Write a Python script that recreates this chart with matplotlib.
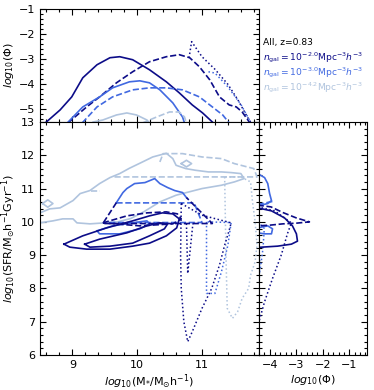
import matplotlib
matplotlib.use("Agg")
import matplotlib.pyplot as plt
from matplotlib.ticker import MultipleLocator, NullFormatter

NAVY = "#0c0c88"
ROYAL = "#4169e1"
LIGHT = "#b0c4de"

# ---------------- top panel: mass functions log10(Phi) vs log10(M*) ----------------
mf_navy_solid_x = [8.58, 8.81, 8.99, 9.16, 9.38, 9.58, 9.73, 9.93, 10.19, 10.45, 10.65, 10.85, 11.01, 11.16]
mf_navy_solid_y = [-5.54, -5.02, -4.5, -3.74, -3.22, -2.94, -2.9, -3.02, -3.42, -3.9, -4.34, -4.82, -5.14, -5.5]
mf_navy_dash_x = [8.93, 9.22, 9.42, 9.68, 9.93, 10.19, 10.45, 10.65, 10.81, 10.96, 11.12, 11.27, 11.42, 11.53, 11.62, 11.73]
mf_navy_dash_y = [-5.54, -4.9, -4.5, -3.94, -3.5, -3.1, -2.9, -2.82, -2.94, -3.3, -3.82, -4.5, -4.82, -4.9, -5.1, -5.5]
mf_navy_dot_x = [10.8, 10.84, 11.0, 11.2, 11.4, 11.55, 11.7, 11.75]
mf_navy_dot_y = [-2.95, -2.3, -2.9, -3.4, -4.0, -4.6, -5.3, -5.5]
mf_royal_solid_x = [8.92, 9.16, 9.42, 9.62, 9.88, 10.04, 10.19, 10.35, 10.55, 10.7, 10.73]
mf_royal_solid_y = [-5.54, -4.9, -4.5, -4.14, -3.9, -3.86, -3.94, -4.22, -4.74, -5.3, -5.54]
mf_royal_dash_x = [9.15, 9.38, 9.62, 9.93, 10.19, 10.45, 10.7, 10.96, 11.16, 11.32, 11.42]
mf_royal_dash_y = [-5.54, -4.9, -4.5, -4.22, -4.14, -4.14, -4.22, -4.5, -4.9, -5.22, -5.54]
mf_royal_dot_x = [11.1, 11.2, 11.4, 11.6, 11.75]
mf_royal_dot_y = [-3.5, -3.55, -4.1, -4.8, -5.5]
mf_light_solid_x = [9.32, 9.47, 9.68, 9.84, 9.99, 10.15, 10.19]
mf_light_solid_y = [-5.5, -5.42, -5.22, -5.14, -5.22, -5.42, -5.54]
mf_light_dash_x = [10.08, 10.3, 10.5, 10.65, 10.73, 10.76]
mf_light_dash_y = [-5.54, -5.3, -5.1, -5.1, -5.3, -5.54]

# ---------------- main panel: SFR-M* contours ----------------
c_navy_solid_outer_x = [8.87, 9.16, 9.53, 9.93, 10.19, 10.39, 10.55, 10.65, 10.61, 10.45, 10.19, 9.93, 9.58, 9.22, 8.96, 8.87]
c_navy_solid_outer_y = [9.33, 9.58, 9.82, 10.03, 10.18, 10.27, 10.24, 10.09, 9.82, 9.58, 9.36, 9.27, 9.18, 9.18, 9.24, 9.33]
c_navy_solid_inner_x = [9.19, 9.42, 9.84, 10.15, 10.35, 10.47, 10.42, 10.19, 9.93, 9.58, 9.27, 9.19]
c_navy_solid_inner_y = [9.33, 9.48, 9.67, 9.88, 9.97, 9.94, 9.79, 9.58, 9.36, 9.27, 9.24, 9.33]
c_navy_dash_outer_x = [9.68, 9.47, 11.16, 10.76]
c_navy_dash_outer_y = [10.58, 9.95, 9.95, 10.73]
c_navy_dash_inner_x = [9.47, 9.84, 10.15, 10.45, 10.62, 10.68, 10.55, 10.04, 9.47]
c_navy_dash_inner_y = [9.97, 10.18, 10.27, 10.3, 10.24, 10.09, 9.94, 9.88, 9.97]
c_navy_dot_x = [10.68, 10.67, 10.68, 10.72, 10.78, 10.85, 11.0, 11.15, 11.27, 11.35, 11.42, 11.45, 11.0, 10.68]
c_navy_dot_y = [10.55, 9.0, 8.0, 7.0, 6.4, 6.7, 7.4, 8.0, 8.7, 9.3, 9.75, 9.97, 10.2, 10.55]
c_navy_dot_notch_x = [10.76, 10.78, 10.86]
c_navy_dot_notch_y = [9.95, 8.45, 9.95]
c_royal_solid_x = [9.68, 9.78, 9.84, 9.96, 10.12, 10.27, 10.35, 10.47, 10.58, 10.7, 10.76]
c_royal_solid_y = [10.58, 10.88, 11.0, 11.15, 11.18, 11.3, 11.15, 11.03, 10.94, 10.88, 10.73]
c_royal_solid_small_x = [9.38, 9.62, 9.93, 10.15, 10.19, 10.04, 9.73, 9.42, 9.38]
c_royal_solid_small_y = [9.73, 9.88, 9.97, 10.03, 9.94, 9.79, 9.64, 9.64, 9.73]
c_royal_dash_x = [9.68, 10.88, 11.0, 9.55]
c_royal_dash_y = [10.57, 10.57, 9.98, 9.98]
c_royal_dot_x = [11.07, 11.07, 11.2, 11.3, 11.4, 11.45, 11.07]
c_royal_dot_y = [10.0, 7.85, 7.85, 8.5, 9.3, 9.98, 10.0]
c_light_solid_x = [8.5, 8.65, 8.81, 9.01, 9.12, 9.27, 9.42, 9.58, 9.73, 9.88, 10.04, 10.24, 10.45, 10.55,
                   10.6, 10.75, 10.9, 11.1, 11.3, 11.45, 11.6, 11.65, 11.5, 11.3, 11.0, 10.8, 10.6, 10.35,
                   10.1, 9.9, 9.7, 9.5, 9.27, 9.07, 9.01, 8.85, 8.7, 8.5]
c_light_solid_y = [10.27, 10.39, 10.42, 10.64, 10.85, 10.94, 11.15, 11.33, 11.45, 11.61, 11.76, 11.95, 12.06, 11.9,
                   11.7, 11.6, 11.55, 11.5, 11.5, 11.48, 11.45, 11.3, 11.2, 11.1, 11.0, 10.9, 10.8, 10.6,
                   10.3, 10.1, 10.0, 9.97, 9.94, 9.97, 10.09, 10.09, 10.03, 9.97]
c_light_diamond1_x = [8.54, 8.62, 8.7, 8.62, 8.54]
c_light_diamond1_y = [10.55, 10.66, 10.55, 10.44, 10.55]
c_light_diamond2_x = [10.68, 10.76, 10.84, 10.76, 10.68]
c_light_diamond2_y = [11.75, 11.85, 11.75, 11.65, 11.75]
c_light_dash_x = [9.65, 11.85, 11.8, 11.5, 11.3, 11.0, 10.7, 10.4, 10.35]
c_light_dash_y = [11.35, 11.35, 11.6, 11.75, 11.9, 11.95, 12.05, 12.05, 11.8]
c_light_dash_small_x = [9.28, 9.42]
c_light_dash_small_y = [10.94, 10.94]
c_light_dot_x = [11.35, 11.37, 11.39, 11.47, 11.55, 11.62, 11.72, 11.75, 11.82, 11.85, 11.82, 11.78, 11.75, 11.6, 11.35]
c_light_dot_y = [11.35, 9.0, 7.4, 7.1, 7.3, 7.7, 8.0, 8.4, 8.8, 9.3, 10.0, 10.6, 11.2, 11.35, 11.35]

# ---------------- right panel: SFR functions ----------------
sf_navy_solid_x = [-4.45, -3.93, -3.44, -3.14, -2.99, -2.95, -3.18, -3.7, -4.3, -4.45]
sf_navy_solid_y = [10.42, 10.33, 10.12, 9.88, 9.64, 9.42, 9.33, 9.27, 9.24, 9.23]
sf_navy_dash_x = [-4.45, -3.95, -3.5, -3.0, -2.5, -3.0, -3.5, -4.0, -4.45]
sf_navy_dash_y = [10.5, 10.45, 10.28, 10.12, 10.0, 9.96, 9.94, 9.9, 9.88]
sf_navy_dot_x = [-4.45, -3.81, -3.18, -3.33, -3.55, -3.89, -4.19, -4.37, -4.45]
sf_navy_dot_y = [10.45, 10.33, 9.97, 9.64, 9.03, 8.3, 7.6, 7.09, 6.9]
sf_royal_solid_x = [-4.45, -4.19, -4.07, -4.0, -3.93, -4.07, -4.45]
sf_royal_solid_y = [11.45, 11.33, 11.15, 10.85, 10.64, 10.55, 10.48]
sf_royal_solid2_x = [-4.45, -4.07, -3.89, -3.93, -4.19, -4.45]
sf_royal_solid2_y = [9.82, 9.88, 9.79, 9.64, 9.64, 9.67]
sf_royal_dash_x = [-4.45, -3.85]
sf_royal_dash_y = [10.52, 10.62]
sf_royal_dot_x = [-4.45, -4.2, -4.25, -4.35, -4.45]
sf_royal_dot_y = [10.0, 9.8, 9.2, 8.6, 8.2]
sf_light_dot_x = [-4.45, -4.35, -4.38, -4.45]
sf_light_dot_y = [9.2, 8.9, 8.3, 7.9]

legend_texts = [r"All, z=0.83",
                r"$n_{\rm gal}=10^{-2.0}{\rm Mpc}^{-3}h^{-3}$",
                r"$n_{\rm gal}=10^{-3.0}{\rm Mpc}^{-3}h^{-3}$",
                r"$n_{\rm gal}=10^{-4.2}{\rm Mpc}^{-3}h^{-3}$"]
legend_colors = ["black", NAVY, ROYAL, LIGHT]

W, H = 374, 390
fig = plt.figure(figsize=(W / 100, H / 100), dpi=100)
L, R, B, M, T, RR = 40 / W, 259 / W, 1 - 355 / H, 1 - 122 / H, 1 - 9 / H, 367 / W
ax_top = fig.add_axes([L, M, R - L, T - M])
ax = fig.add_axes([L, B, R - L, M - B])
ax_r = fig.add_axes([R, B, RR - R, M - B])

LW = 1.2
DOT = (0, (1, 1.6))
def style(a):
    a.tick_params(which="both", direction="in", top=True, right=True, labelsize=8, width=0.8)
    a.tick_params(which="major", length=4)
    a.tick_params(which="minor", length=2)
    for s in a.spines.values():
        s.set_linewidth(0.8)

def draw(a, xs, ys, c, ls):
    if ls == ":":
        a.plot(xs, ys, color=c, lw=1.1, ls=DOT)
    else:
        a.plot(xs, ys, color=c, lw=LW, ls=ls)

# top
draw(ax_top, mf_navy_solid_x, mf_navy_solid_y, NAVY, "-")
draw(ax_top, mf_navy_dash_x, mf_navy_dash_y, NAVY, "--")
draw(ax_top, mf_navy_dot_x, mf_navy_dot_y, NAVY, ":")
draw(ax_top, mf_royal_solid_x, mf_royal_solid_y, ROYAL, "-")
draw(ax_top, mf_royal_dash_x, mf_royal_dash_y, ROYAL, "--")
draw(ax_top, mf_royal_dot_x, mf_royal_dot_y, ROYAL, ":")
draw(ax_top, mf_light_solid_x, mf_light_solid_y, LIGHT, "-")
draw(ax_top, mf_light_dash_x, mf_light_dash_y, LIGHT, "--")
ax_top.set_xlim(8.5, 11.88)
ax_top.set_ylim(-5.5, -1)
ax_top.xaxis.set_major_locator(MultipleLocator(1))
ax_top.xaxis.set_minor_locator(MultipleLocator(0.2))
ax_top.yaxis.set_major_locator(MultipleLocator(1))
ax_top.yaxis.set_minor_locator(MultipleLocator(0.2))
ax_top.xaxis.set_major_formatter(NullFormatter())
ax_top.set_ylabel(r"$log_{10}(\Phi)$", fontsize=8, labelpad=2)
style(ax_top)

# main
for xs, ys, c, ls in [
    (c_light_solid_x, c_light_solid_y, LIGHT, "-"),
    (c_light_diamond1_x, c_light_diamond1_y, LIGHT, "-"),
    (c_light_diamond2_x, c_light_diamond2_y, LIGHT, "-"),
    (c_light_dash_x, c_light_dash_y, LIGHT, "--"),
    (c_light_dash_small_x, c_light_dash_small_y, LIGHT, "--"),
    (c_light_dot_x, c_light_dot_y, LIGHT, ":"),
    (c_royal_solid_x, c_royal_solid_y, ROYAL, "-"),
    (c_royal_solid_small_x, c_royal_solid_small_y, ROYAL, "-"),
    (c_royal_dash_x, c_royal_dash_y, ROYAL, "--"),
    (c_royal_dot_x, c_royal_dot_y, ROYAL, ":"),
    (c_navy_solid_outer_x, c_navy_solid_outer_y, NAVY, "-"),
    (c_navy_solid_inner_x, c_navy_solid_inner_y, NAVY, "-"),
    (c_navy_dash_outer_x, c_navy_dash_outer_y, NAVY, "--"),
    (c_navy_dash_inner_x, c_navy_dash_inner_y, NAVY, "--"),
    (c_navy_dot_x, c_navy_dot_y, NAVY, ":"),
    (c_navy_dot_notch_x, c_navy_dot_notch_y, NAVY, ":"),
]:
    draw(ax, xs, ys, c, ls)
ax.set_xlim(8.5, 11.88)
ax.set_ylim(6, 13)
ax.xaxis.set_major_locator(MultipleLocator(1))
ax.xaxis.set_minor_locator(MultipleLocator(0.2))
ax.yaxis.set_major_locator(MultipleLocator(1))
ax.yaxis.set_minor_locator(MultipleLocator(0.2))
ax.set_xlabel(r"$log_{10}$(M$_{*}$/M$_{\odot}$h$^{-1}$)", fontsize=8, labelpad=2)
ax.set_ylabel(r"$log_{10}$(SFR/M$_{\odot}$h$^{-1}$Gyr$^{-1}$)", fontsize=8, labelpad=2)
style(ax)

# right
draw(ax_r, sf_light_dot_x, sf_light_dot_y, LIGHT, ":")
draw(ax_r, sf_royal_solid_x, sf_royal_solid_y, ROYAL, "-")
draw(ax_r, sf_royal_solid2_x, sf_royal_solid2_y, ROYAL, "-")
draw(ax_r, sf_royal_dash_x, sf_royal_dash_y, ROYAL, "--")
draw(ax_r, sf_royal_dot_x, sf_royal_dot_y, ROYAL, ":")
draw(ax_r, sf_navy_solid_x, sf_navy_solid_y, NAVY, "-")
draw(ax_r, sf_navy_dash_x, sf_navy_dash_y, NAVY, "--")
draw(ax_r, sf_navy_dot_x, sf_navy_dot_y, NAVY, ":")
ax_r.set_xlim(-4.4, -0.33)
ax_r.set_ylim(6, 13)
ax_r.xaxis.set_major_locator(MultipleLocator(1))
ax_r.xaxis.set_minor_locator(MultipleLocator(0.2))
ax_r.yaxis.set_major_locator(MultipleLocator(1))
ax_r.yaxis.set_minor_locator(MultipleLocator(0.2))
ax_r.yaxis.set_major_formatter(NullFormatter())
ax_r.set_xlabel(r"$log_{10}(\Phi)$", fontsize=8, labelpad=2)
style(ax_r)

# legend text in the empty top-right area
ys_txt = [43, 58, 73, 88]
for t, c, yp in zip(legend_texts, legend_colors, ys_txt):
    fig.text(263 / W, 1 - yp / H, t, color=c, fontsize=6.6, va="center", ha="left")

fig.savefig("out.png", dpi=100)
